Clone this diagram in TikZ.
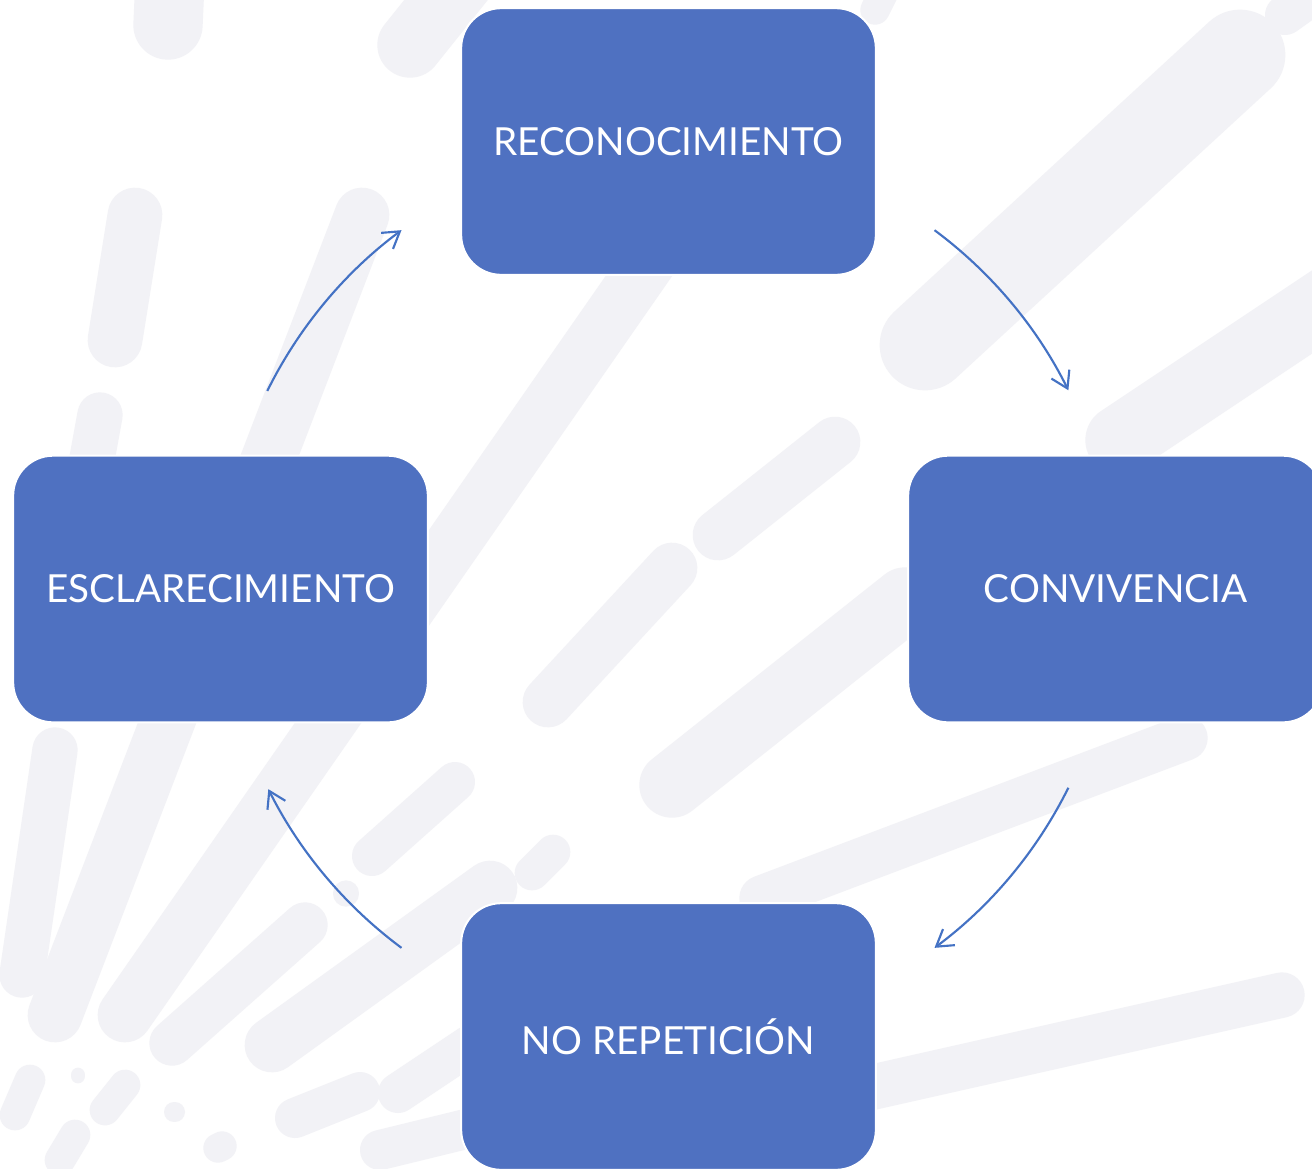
\documentclass[tikz,border=0pt]{standalone}
\usepackage{fontspec}
\setmainfont{Lato}
\usetikzlibrary{arrows.meta,calc}
\definecolor{boxblue}{RGB}{79,113,193}
\definecolor{arrowblue}{RGB}{68,114,196}
\definecolor{bgc}{RGB}{242,242,246}
\begin{document}
\begin{tikzpicture}[x=0.75pt,y=-0.75pt,
  stage/.style={draw=white, line width=1.5pt, fill=boxblue, rounded corners=30pt,
    minimum width=311pt, minimum height=200pt, text=white, inner sep=0pt,
    font=\fontsize{29}{35}\selectfont},
  cyc/.style={draw=arrowblue, line width=1.6pt, -{Straight Barb[length=12pt,width=15pt]}},
  bg/.style={draw=bgc, line cap=round, line join=round}]
\useasboundingbox (0,0) rectangle (1312,1168);
\fill[white] (0,0) rectangle (1312,1168);
\begin{scope}
\clip (0,0) rectangle (1312,1168);
% background brush strokes
\draw[bg, line width=52pt] (170,-20) -- (168,25);
\draw[bg, line width=49pt] (470,-30) -- (410,45);
\draw[bg, line width=41pt] (135,215) -- (115,340);
\draw[bg, line width=41pt] (362,215) -- (55,1015);
\draw[bg, line width=34pt] (100,415) -- (90,470);
\draw[bg, line width=34pt] (55,750) -- (22,975);
\draw[bg, line width=41pt] (650,260) -- (125,1015);
\draw[bg, line width=30pt] (455,782) -- (372,856);
\draw[bg, line width=34pt] (305,925) -- (172,1043);
\draw[bg, line width=41pt] (490,888) -- (272,1045);
\draw[bg, line width=26pt] (553,852) -- (532,873);
\draw[bg, line width=19pt] (346,893) -- (346,894);
\draw[bg, line width=23pt] (30,1080) -- (15,1115);
\draw[bg, line width=11pt] (78,1075) -- (78,1076);
\draw[bg, line width=23pt] (125,1085) -- (105,1110);
\draw[bg, line width=15pt] (174,1112) -- (175,1112);
\draw[bg, line width=22pt] (218,1148) -- (222,1146);
\draw[bg, line width=23pt] (75,1135) -- (60,1160);
\draw[bg, line width=30pt] (295,1118) -- (360,1092);
\draw[bg, line width=30pt] (398,1093) -- (470,1045);
\draw[bg, line width=30pt] (380,1150) -- (470,1128);
\draw[bg, line width=68pt] (1240,55) -- (925,345);
\draw[bg, line width=38pt] (835,442) -- (718,535);
\draw[bg, line width=38pt] (672,568) -- (548,702);
\draw[bg, line width=52pt] (1330,300) -- (1120,440);
\draw[bg, line width=49pt] (905,600) -- (672,785);
\draw[bg, line width=34pt] (1185,738) -- (762,898);
\draw[bg, line width=34pt] (860,1090) -- (1282,995);
\draw[bg, line width=30pt] (1320,-10) -- (1285,15);
\draw[bg, line width=22pt] (885,-10) -- (875,10);
% stages
\node[stage] (rec) at (668.5,141.5) {RECONOCIMIENTO};
\node[stage] (con) at (1115.5,589) {CONVIVENCIA};
\node[stage] (esc) at (220.5,589) {ESCLARECIMIENTO};
\node[stage] (nor) at (668.5,1036.5) {NO REPETICIÓN};
\end{scope}
% cycle arrows on a circle round the centre
\coordinate (ctr) at (668,589);
\coordinate (a1) at ($(ctr)+(153.7:335.25pt)$);
\coordinate (a2) at ($(ctr)+(53.4:335.25pt)$);
\coordinate (a3) at ($(ctr)+(-26.4:335.25pt)$);
\coordinate (a4) at ($(ctr)+(233.4:335.25pt)$);
\draw[cyc] (a1) arc[start angle=153.7, end angle=126.6, radius=335.25pt];
\draw[cyc] (a2) arc[start angle=53.4, end angle=26.4, radius=335.25pt];
\draw[cyc] (a3) arc[start angle=-26.4, end angle=-53.4, radius=335.25pt];
\draw[cyc] (a4) arc[start angle=233.4, end angle=206.6, radius=335.25pt];
\end{tikzpicture}
\end{document}
